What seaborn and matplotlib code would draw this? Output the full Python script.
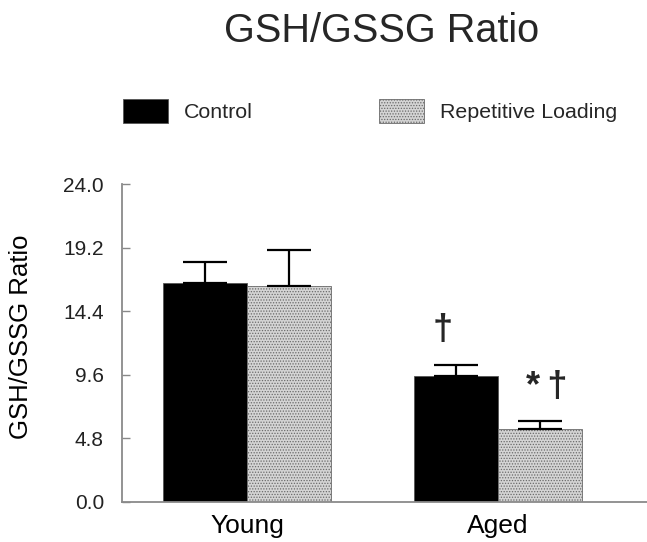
import matplotlib
matplotlib.use("Agg")
import matplotlib.pyplot as plt
import seaborn as sns
import pandas as pd
import numpy as np
from matplotlib.patches import Patch

groups = ["Young", "Aged"]
conditions = ["Control", "Repetitive Loading"]
control_means = [16.5, 9.5]
control_sem = [1.6, 0.8]
loading_means = [16.3, 5.5]
loading_sem = [2.7, 0.6]
yticks = [0.0, 4.8, 9.6, 14.4, 19.2, 24.0]

sns.set_theme(style="white")
plt.rcParams["font.family"] = ["Liberation Sans", "DejaVu Sans"]
plt.rcParams["hatch.color"] = "#7a7a7a"
plt.rcParams["hatch.linewidth"] = 0.6

df = pd.DataFrame({
    "Group": groups * 2,
    "Condition": [conditions[0]] * 2 + [conditions[1]] * 2,
    "Ratio": control_means + loading_means,
    "SEM": control_sem + loading_sem,
})

fig = plt.figure(figsize=(6.47, 5.42), dpi=100)
ax = fig.add_axes([0.1886, 0.0747, 0.8114, 0.5858])

palette = {"Control": "black", "Repetitive Loading": "#d4d4d4"}
sns.barplot(data=df, x="Group", y="Ratio", hue="Condition", order=groups,
            hue_order=conditions, palette=palette, width=0.67, errorbar=None,
            saturation=1, legend=False, ax=ax, edgecolor="#555555", linewidth=0.6)

for cont in ax.containers[1:]:
    for p in cont:
        p.set_hatch("......")
        p.set_edgecolor("#6a6a6a")

for cont, cond in zip(ax.containers, conditions):
    sub = df[df["Condition"] == cond].set_index("Group").loc[groups]
    xs = [p.get_x() + p.get_width() / 2 for p in cont]
    ax.errorbar(xs, sub["Ratio"].values,
                yerr=[np.zeros(len(xs)), sub["SEM"].values],
                fmt="none", ecolor="black", elinewidth=1.6, capsize=15.5,
                capthick=1.6, zorder=1)

ax.set_ylim(0, 24.0)
ax.set_xlim(-0.498, 1.594)
ax.set_yticks(yticks)
ax.set_yticklabels([f"{v:.1f}" for v in yticks], fontsize=15, color="#222222")
ax.tick_params(axis="y", direction="in", length=6, width=1.0, color="#888888",
               pad=13, left=True)
ax.tick_params(axis="x", length=0, pad=9, labelsize=19, labelcolor="black")
ax.set_xlabel("")
ax.set_ylabel("GSH/GSSG Ratio", fontsize=18.5, color="black")
ax.yaxis.set_label_coords(-0.17, 0.52)

for s in ["top", "right"]:
    ax.spines[s].set_visible(False)
for s in ["left", "bottom"]:
    ax.spines[s].set_color("#8a8a8a")
    ax.spines[s].set_linewidth(1.3)

ax.text(0.781, 12.96, "\u2020", fontsize=26, fontweight="bold", ha="center", va="center")
ax.text(1.195, 8.65, "*\u2009\u2020", fontsize=26, fontweight="bold", ha="center", va="center")

fig.text(0.589, 0.943, "GSH/GSSG Ratio", fontsize=28.5, ha="center", va="center")

handles = [Patch(facecolor="black", edgecolor="#555555", linewidth=0.6, label="Control"),
           Patch(facecolor="#d4d4d4", edgecolor="#6a6a6a", hatch="......",
                 linewidth=0.6, label="Repetitive Loading")]
fig.legend(handles=handles, loc="center left", bbox_to_anchor=(0.19, 0.795),
           ncol=2, frameon=False, fontsize=15.4, handlelength=2.1, handleheight=1.4,
           handletextpad=0.75, columnspacing=5.9, borderpad=0, borderaxespad=0)

fig.savefig("out.png", dpi=100)
